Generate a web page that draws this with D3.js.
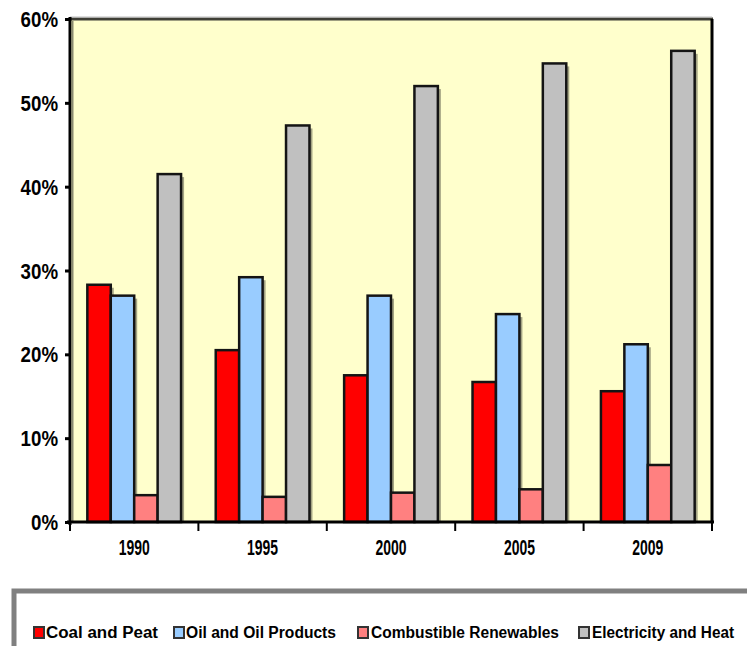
<!DOCTYPE html>
<html>
<head>
<meta charset="utf-8">
<script src="https://cdn.jsdelivr.net/npm/d3@7"></script>
<style>
  html, body { margin: 0; padding: 0; background: #ffffff; }
  svg { display: block; }
  text { font-family: "Liberation Sans Narrow", "Arial Narrow", "Liberation Sans", sans-serif; font-weight: bold; fill: #000; }
</style>
</head>
<body>
<script>
// ---- data ----
const years = ["1990", "1995", "2000", "2005", "2009"];
const seriesNames = ["Coal and Peat", "Oil and Oil Products", "Combustible Renewables", "Electricity and Heat"];
const coalAndPeat = [28.3, 20.5, 17.5, 16.7, 15.6];
const oilProducts = [27.0, 29.2, 27.0, 24.8, 21.2];
const renewables = [3.2, 3.0, 3.5, 3.9, 6.8];
const electricityHeat = [41.5, 47.3, 52.0, 54.7, 56.2];
const yTicks = [0, 10, 20, 30, 40, 50, 60];
const colors = ["#FF0000", "#99CCFF", "#FF8080", "#C0C0C0"];

const seriesValues = [coalAndPeat, oilProducts, renewables, electricityHeat];

const W = 747, H = 646;
const plot = { left: 70, right: 712, top: 19, bottom: 522 };

const svg = d3.select("body").append("svg").attr("width", W).attr("height", H);

const x0 = d3.scaleBand().domain(years).range([plot.left, plot.right])
  .paddingInner(0.27).paddingOuter(0.135);
const x1 = d3.scaleBand().domain(d3.range(seriesNames.length)).range([0, x0.bandwidth()]);
const y = d3.scaleLinear().domain([0, 60]).range([plot.bottom, plot.top]);

// plot background
svg.append("rect")
  .attr("x", plot.left).attr("y", plot.top)
  .attr("width", plot.right - plot.left).attr("height", plot.bottom - plot.top)
  .attr("fill", "#FFFFCC");

// top and right frame
svg.append("line").attr("x1", plot.left).attr("x2", plot.right + 1)
  .attr("y1", plot.top).attr("y2", plot.top)
  .attr("stroke", "#3f3f36").attr("stroke-width", 3);
svg.append("line").attr("x1", plot.left).attr("x2", plot.right)
  .attr("y1", plot.top - 2).attr("y2", plot.top - 2)
  .attr("stroke", "#bdbdbd").attr("stroke-width", 1);
svg.append("line").attr("x1", plot.right).attr("x2", plot.right)
  .attr("y1", plot.top).attr("y2", plot.bottom)
  .attr("stroke", "#000").attr("stroke-width", 3);

// bars
const rows = years.map((yr, i) => ({ year: yr, vals: seriesValues.map((s, k) => ({ k, v: s[i] })) }));
const groups = svg.append("g").selectAll("g").data(rows).join("g")
  .attr("transform", d => `translate(${x0(d.year)},0)`);

// shadows
groups.selectAll("rect.shadow").data(d => d.vals).join("rect")
  .attr("class", "shadow")
  .attr("x", d => x1(d.k) + 3)
  .attr("y", d => y(d.v) + 3)
  .attr("width", x1.bandwidth())
  .attr("height", d => plot.bottom - y(d.v) - 3)
  .attr("fill", "#5a5a48").attr("opacity", 0.55);

groups.selectAll("rect.bar").data(d => d.vals).join("rect")
  .attr("class", "bar")
  .attr("x", d => x1(d.k))
  .attr("y", d => y(d.v))
  .attr("width", x1.bandwidth())
  .attr("height", d => plot.bottom - y(d.v))
  .attr("fill", d => colors[d.k])
  .attr("stroke", "#141414").attr("stroke-width", 2.5);

// y axis
const yAxis = d3.axisLeft(y).tickValues(yTicks).tickFormat(d => d + "%").tickSize(5).tickPadding(8);
const gy = svg.append("g").attr("transform", `translate(${plot.left},0)`).call(yAxis);
gy.select(".domain").remove();
gy.selectAll(".tick line").attr("stroke", "#000").attr("stroke-width", 3);
gy.selectAll(".tick text")
  .style("font-size", "17px")
  .attr("x", 0)
  .attr("dy", "0.36em")
  .attr("text-anchor", "end")
  .attr("transform", "translate(-12,0) scale(1.1,1.25)");
svg.append("line").attr("x1", plot.left).attr("x2", plot.left)
  .attr("y1", plot.top - 2).attr("y2", plot.bottom + 3)
  .attr("stroke", "#000").attr("stroke-width", 3);
svg.append("line").attr("x1", plot.left + 2.5).attr("x2", plot.left + 2.5)
  .attr("y1", plot.top + 2).attr("y2", plot.bottom)
  .attr("stroke", "#8a8a70").attr("stroke-width", 2);

// x axis
const xTickPositions = d3.range(years.length + 1).map(i => plot.left + i * x0.step());
const gx = svg.append("g");
gx.selectAll("line.tick").data(xTickPositions).join("line")
  .attr("class", "tick")
  .attr("x1", d => d).attr("x2", d => d)
  .attr("y1", plot.bottom).attr("y2", plot.bottom + 9)
  .attr("stroke", "#000").attr("stroke-width", 2);
gx.append("line").attr("x1", plot.left - 3).attr("x2", plot.right + 2)
  .attr("y1", plot.bottom).attr("y2", plot.bottom)
  .attr("stroke", "#000").attr("stroke-width", 3);
gx.selectAll("text").data(years).join("text")
  .attr("transform", d => `translate(${x0(d) + x0.bandwidth() / 2},555) scale(0.82,1.35)`)
  .attr("text-anchor", "middle")
  .style("font-size", "17px")
  .text(d => d);

// legend box
const legendTop = 591;
svg.append("path")
  .attr("d", `M14,${H + 5} L14,${legendTop} L${W + 5},${legendTop}`)
  .attr("fill", "none").attr("stroke", "#808080").attr("stroke-width", 5);

const legendItems = [
  { sx: 34, tx: 46, tw: 112 },
  { sx: 174, tx: 186, tw: 150 },
  { sx: 358, tx: 371, tw: 188 },
  { sx: 579, tx: 592, tw: 142 }
];
const lg = svg.append("g").selectAll("g").data(seriesNames).join("g");
lg.append("rect")
  .attr("x", (d, i) => legendItems[i].sx).attr("y", 627)
  .attr("width", 10).attr("height", 11)
  .attr("fill", (d, i) => colors[i])
  .attr("stroke", "#333").attr("stroke-width", 2);
lg.append("text")
  .attr("x", (d, i) => legendItems[i].tx)
  .attr("y", 638)
  .style("font-size", "16px")
  .attr("textLength", (d, i) => legendItems[i].tw)
  .attr("lengthAdjust", "spacingAndGlyphs")
  .text(d => d);
</script>
</body>
</html>
